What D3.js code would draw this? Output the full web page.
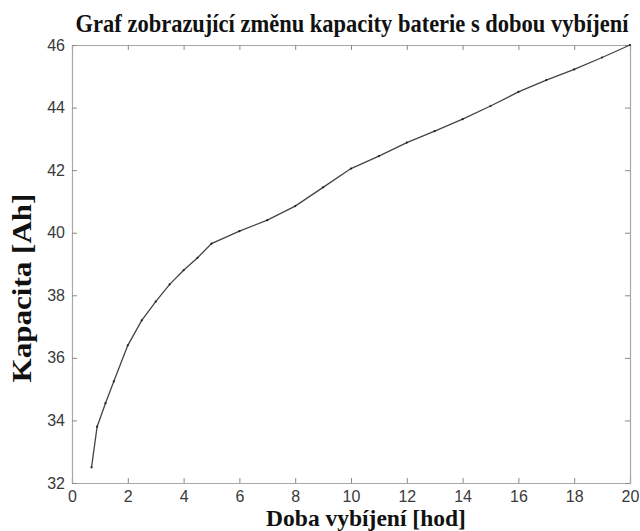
<!DOCTYPE html>
<html>
<head>
<meta charset="utf-8">
<script src="https://cdn.jsdelivr.net/npm/d3@7"></script>
<style>
  body { margin: 0; background: #fff; }
  svg { display: block; }
  .tick text { font-family: 'Liberation Sans', Arial, sans-serif; font-size: 16px; fill: #3a3a3a; }
  .domain { stroke: #a8a8a8; }
  .tick line { stroke: #8a8a8a; }
  .lbl { font-family: 'Liberation Serif', 'Times New Roman', serif; font-weight: bold; fill: #111; }
</style>
</head>
<body>
<div id="chart"></div>
<script>
// doba vybijeni [hod]
var hours = [0.7, 0.9, 1.2, 1.5, 2, 2.5, 3, 3.5, 4, 4.5, 5, 6, 7, 8, 9, 10, 11, 12, 13, 14, 15, 16, 17, 18, 19, 20];
// kapacita [Ah]
var capacity = [32.5, 33.8, 34.55, 35.25, 36.4, 37.2, 37.8, 38.35, 38.8, 39.2, 39.65, 40.05, 40.4, 40.85, 41.45, 42.05, 42.45, 42.88, 43.25, 43.63, 44.05, 44.5, 44.88, 45.22, 45.6, 46.0];
var xTicks = [0, 2, 4, 6, 8, 10, 12, 14, 16, 18, 20];
var yTicks = [32, 34, 36, 38, 40, 42, 44, 46];

var width = 640, height = 531;
var margin = {top: 45, right: 10, bottom: 48, left: 72};
var w = width - margin.left - margin.right,
    h = height - margin.top - margin.bottom;

var svg = d3.select('#chart').append('svg')
  .attr('width', width)
  .attr('height', height);

var x = d3.scaleLinear().domain([0, 20]).range([0, w]);
var y = d3.scaleLinear().domain([32, 46]).range([h, 0]);

var g = svg.append('g')
  .attr('transform', 'translate(' + margin.left + ',' + margin.top + ')');

// box with inward ticks, labels only left and bottom
g.append('g')
  .attr('transform', 'translate(0,' + h + ')')
  .call(d3.axisBottom(x).tickValues(xTicks).tickSize(-5).tickPadding(8));
g.append('g')
  .call(d3.axisTop(x).tickValues(xTicks).tickSize(-5).tickFormat(''));
g.append('g')
  .call(d3.axisLeft(y).tickValues(yTicks).tickSize(-5).tickPadding(7));
g.append('g')
  .attr('transform', 'translate(' + w + ',0)')
  .call(d3.axisRight(y).tickValues(yTicks).tickSize(-5).tickFormat(''));

g.selectAll('.domain').attr('stroke-width', 1.2);

var data = hours.map(function(d, i) { return {h: d, c: capacity[i]}; });

var line = d3.line()
  .x(function(d) { return x(d.h); })
  .y(function(d) { return y(d.c); });

g.append('path')
  .datum(data)
  .attr('fill', 'none')
  .attr('stroke', '#444')
  .attr('stroke-width', 1.3)
  .attr('d', line);

g.selectAll('circle')
  .data(data).enter()
  .append('circle')
  .attr('cx', function(d) { return x(d.h); })
  .attr('cy', function(d) { return y(d.c); })
  .attr('r', 1.1)
  .attr('fill', '#222');

// titles
svg.append('text')
  .attr('class', 'lbl')
  .attr('transform', 'translate(352,32) scale(1,1.1)')
  .attr('text-anchor', 'middle')
  .style('font-size', '22.5px')
  .text('Graf zobrazující změnu kapacity baterie s dobou vybíjení');

svg.append('text')
  .attr('class', 'lbl')
  .attr('x', 366)
  .attr('y', 526)
  .attr('text-anchor', 'middle')
  .style('font-size', '23.5px')
  .text('Doba vybíjení [hod]');

svg.append('text')
  .attr('class', 'lbl')
  .attr('transform', 'translate(31,288) rotate(-90) scale(1.15,1)')
  .attr('text-anchor', 'middle')
  .style('font-size', '27px')
  .text('Kapacita [Ah]');
</script>
</body>
</html>
